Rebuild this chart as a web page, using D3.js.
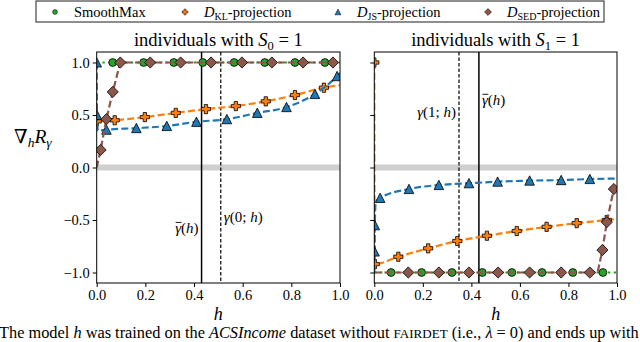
<!DOCTYPE html>
<html><head><meta charset="utf-8">
<script src="https://cdn.jsdelivr.net/npm/d3@7"></script>
<style>
body{margin:0;background:#fff}
svg{display:block}
</style>
</head><body>
<svg id="c" width="640" height="342"></svg>
<script>
// ---------- data ----------
const hTicks = [0, 0.2, 0.4, 0.6, 0.8, 1.0];
const yTicks = [-1, -0.5, 0, 0.5, 1];
const seriesKeys = ["smooth", "kl", "js", "sed"];
const seriesColors = {smooth: "#2ca02c", kl: "#ff7f0e", js: "#1f77b4", sed: "#8c564b"};
const seriesMarkers = {smooth: "circle", kl: "plus", js: "triangle", sed: "diamond"};

// [h, value, hasMarker]
const smoothS0 = [[0,1,0],[0.066,1,1],[0.193,1,1],[0.317,1,1],[0.436,1,1],[0.565,1,1],[0.691,1,1],[0.815,1,1],[0.938,1,1],[1,1,0]];
const klS0 = [[0,0.44,1],[0.074,0.45,1],[0.198,0.48,1],[0.325,0.52,1],[0.449,0.556,1],[0.572,0.585,1],[0.695,0.63,1],[0.815,0.69,1],[0.934,0.76,1],[1,0.785,0]];
const jsS0 = [[0,1.0,1],[0.001,0.5,1],[0.005,0.35,0],[0.04,0.36,1],[0.163,0.375,1],[0.288,0.395,1],[0.41,0.435,1],[0.535,0.46,1],[0.66,0.52,1],[0.78,0.575,1],[0.897,0.70,1],[0.988,0.87,1],[1,0.90,0]];
const sedS0 = [[0,0.0,0],[0.016,0.167,1],[0.04,0.46,1],[0.066,0.72,1],[0.097,1.0,1],[0.22,1,1],[0.345,1,1],[0.47,1,1],[0.597,1,1],[0.72,1,1],[0.848,1,1],[0.971,1,1],[1,1,0]];

const smoothS1 = [[0,-1,0],[0.069,-1,1],[0.195,-1,1],[0.32,-1,1],[0.445,-1,1],[0.567,-1,1],[0.691,-1,1],[0.818,-1,1],[0.942,-1,1],[1,-1,0]];
const klS1 = [[0,1.0,1],[0.002,-0.92,1],[0.099,-0.85,1],[0.222,-0.77,1],[0.342,-0.70,1],[0.464,-0.65,1],[0.587,-0.605,1],[0.71,-0.565,1],[0.834,-0.53,1],[0.958,-0.50,1],[1,-0.49,0]];
const jsS1 = [[0,-1.0,0],[0.001,-0.80,1],[0.002,-0.55,1],[0.006,-0.33,0],[0.024,-0.29,1],[0.143,-0.205,1],[0.266,-0.167,1],[0.39,-0.15,1],[0.508,-0.135,1],[0.64,-0.125,1],[0.77,-0.12,1],[0.888,-0.11,1],[1,-0.105,0]];
const sedS1 = [[0,-1,0],[0.14,-1,1],[0.266,-1,1],[0.39,-1,1],[0.51,-1,1],[0.64,-1,1],[0.77,-1,1],[0.888,-1,1],[0.92,-1,0],[0.94,-0.786,1],[0.958,-0.52,1],[0.987,-0.205,1]];

const gammaBar = 0.431;      // solid line, both panels
const gamma0 = 0.51;         // dashed, S0 panel
const gamma1 = 0.349;        // dashed, S1 panel

// ---------- drawing ----------
const FONT = "'Liberation Serif', 'Times New Roman', 'DejaVu Serif', serif";
const svg = d3.select("#c");
const yDomain = [-1.1, 1.1];
const axTop = 52, axBottom = 283;

function txt(sel) { return sel.style("font-family", FONT).attr("fill", "#000"); }

function markerPath(type, s) {
  const p = d3.path();
  if (type === "circle") { p.moveTo(s, 0); p.arc(0, 0, s, 0, 2 * Math.PI); p.closePath(); }
  else if (type === "plus") {
    const t = s * 0.36;
    const pts = [[-t,-s],[t,-s],[t,-t],[s,-t],[s,t],[t,t],[t,s],[-t,s],[-t,t],[-s,t],[-s,-t],[-t,-t]];
    p.moveTo(pts[0][0], pts[0][1]); pts.slice(1).forEach(q => p.lineTo(q[0], q[1])); p.closePath();
  } else if (type === "triangle") { p.moveTo(0, -s); p.lineTo(s, s * 0.95); p.lineTo(-s, s * 0.95); p.closePath(); }
  else if (type === "diamond") { p.moveTo(0, -s); p.lineTo(s, 0); p.lineTo(0, s); p.lineTo(-s, 0); p.closePath(); }
  return p.toString();
}
const markerSize = {circle: 3.9, plus: 4.6, triangle: 4.8, diamond: 5.6};
const dashes = {smooth: "2.4,3.3", kl: "7,3.2", js: "7,3.2", sed: "7,3.2"};

function gammaLabel(g, xPos, yPos, anchor, s) {
  const tx = txt(g.append("text")).attr("x", xPos).attr("y", yPos)
    .attr("text-anchor", anchor).attr("font-size", 15);
  tx.append("tspan").attr("font-style", "italic").text("\u03b3");
  tx.append("tspan").text(s === null ? "(" : "(" + s + "; ");
  tx.append("tspan").attr("font-style", "italic").text("h");
  tx.append("tspan").text(")");
  if (s === null) {
    const n = tx.node();
    const a = n.getStartPositionOfChar(0).x, b = n.getEndPositionOfChar(0).x;
    g.append("line").attr("x1", a + 0.5).attr("x2", b + 0.5).attr("y1", yPos - 11).attr("y2", yPos - 11)
      .attr("stroke", "#000").attr("stroke-width", 0.9);
  }
}

function panel(id, x0, x1, sub, data, vlines, showY) {
  const x = d3.scaleLinear().domain([0, 1]).range([x0, x1]);
  const y = d3.scaleLinear().domain(yDomain).range([axBottom, axTop]);
  const g = svg.append("g");
  g.append("clipPath").attr("id", "clip" + id).append("rect")
    .attr("x", x0).attr("y", axTop).attr("width", x1 - x0).attr("height", axBottom - axTop);

  g.append("rect").attr("x", x0).attr("width", x1 - x0)
    .attr("y", y(0) - 3).attr("height", 6).attr("fill", "#cfcfcf");

  vlines.forEach(v => {
    g.append("line").attr("x1", x(v.h)).attr("x2", x(v.h)).attr("y1", axTop).attr("y2", axBottom)
      .attr("stroke", "#000").attr("stroke-width", v.dash ? 1.2 : 1.5)
      .attr("stroke-dasharray", v.dash ? "3.5,2" : null);
  });

  const plot = g.append("g").attr("clip-path", `url(#clip${id})`);
  const curveFor = k => (k === "kl" || k === "js") ? d3.curveMonotoneX : d3.curveLinear;
  seriesKeys.forEach(k => {
    const d = data[k];
    const line = d3.line().x(p => x(p[0])).y(p => y(p[1])).curve(curveFor(k));
    plot.append("path").attr("d", line(d)).attr("fill", "none")
      .attr("stroke", seriesColors[k]).attr("stroke-width", 2.2)
      .attr("stroke-dasharray", dashes[k]);
    const mt = seriesMarkers[k];
    plot.selectAll(null).data(d.filter(p => p[2])).enter().append("path")
      .attr("transform", p => `translate(${x(p[0])},${y(p[1])})`)
      .attr("d", markerPath(mt, markerSize[mt]))
      .attr("fill", seriesColors[k]).attr("stroke", "#000").attr("stroke-width", 0.8);
  });

  g.append("rect").attr("x", x0).attr("y", axTop).attr("width", x1 - x0).attr("height", axBottom - axTop)
    .attr("fill", "none").attr("stroke", "#000").attr("stroke-width", 1);

  const xa = g.append("g").attr("transform", `translate(0,${axBottom})`)
    .call(d3.axisBottom(x).tickValues(hTicks).tickFormat(d3.format(".1f")).tickSize(4).tickPadding(3));
  xa.select(".domain").remove();
  txt(xa.selectAll("text")).attr("font-size", 14.5);
  xa.selectAll("line").attr("stroke", "#000");
  const ya = g.append("g").attr("transform", `translate(${x0},0)`)
    .call(d3.axisLeft(y).tickValues(yTicks).tickFormat(showY ? (v => d3.format(".1f")(v).replace("-", "\u2212")) : "").tickSize(4).tickPadding(3));
  ya.select(".domain").remove();
  txt(ya.selectAll("text")).attr("font-size", 14.5);
  ya.selectAll("line").attr("stroke", "#000");

  const t = txt(g.append("text")).attr("x", (x0 + x1) / 2).attr("y", 46).attr("text-anchor", "middle").attr("font-size", 18.5);
  t.append("tspan").text("individuals with ");
  t.append("tspan").attr("font-style", "italic").text("S");
  t.append("tspan").attr("font-size", 12.5).attr("dy", 4).text(sub);
  t.append("tspan").attr("dy", -4).text(" = 1");

  txt(g.append("text")).attr("x", (x0 + x1) / 2).attr("y", 320).attr("text-anchor", "middle")
    .attr("font-size", 18).attr("font-style", "italic").text("h");

  vlines.forEach(v => {
    gammaLabel(g, x(v.h) + (v.anchor === "end" ? -3 : 3), y(v.ly) + 5, v.anchor, v.s);
  });
}

panel("L", 96.7, 340, "0",
  {smooth: smoothS0, kl: klS0, js: jsS0, sed: sedS0},
  [{h: gammaBar, dash: false, s: null, anchor: "end", ly: -0.58},
   {h: gamma0, dash: true, s: "0", anchor: "start", ly: -0.47}], true);

panel("R", 374.3, 617, "1",
  {smooth: smoothS1, kl: klS1, js: jsS1, sed: sedS1},
  [{h: gamma1, dash: true, s: "1", anchor: "end", ly: 0.53},
   {h: gammaBar, dash: false, s: null, anchor: "start", ly: 0.64}], false);

const yl = txt(svg.append("text")).attr("x", 14).attr("y", 143).attr("font-size", 19.5);
yl.append("tspan").text("\u2207");
yl.append("tspan").attr("font-size", 13.5).attr("font-style", "italic").attr("dy", 4).text("h");
yl.append("tspan").attr("font-style", "italic").attr("dy", -4).text("R");
yl.append("tspan").attr("font-size", 13.5).attr("font-style", "italic").attr("dy", 4).text("\u03b3");

const lg = svg.append("g");
lg.append("rect").attr("x", 36).attr("y", 1).attr("width", 568).attr("height", 21)
  .attr("fill", "#fff").attr("stroke", "#444").attr("stroke-width", 1.2);
const legendX = {smooth: 55, kl: 185, js: 338, sed: 488};
const legendLabel = {kl: "KL", js: "JS", sed: "SED"};
seriesKeys.forEach(k => {
  const mt = seriesMarkers[k];
  lg.append("path").attr("transform", `translate(${legendX[k]},12)`)
    .attr("d", markerPath(mt, markerSize[mt] * 0.62))
    .attr("fill", seriesColors[k]).attr("stroke", "#000").attr("stroke-width", 0.5);
  const t = txt(lg.append("text")).attr("x", legendX[k] + 19).attr("y", 17).attr("font-size", 14.5);
  if (k === "smooth") t.append("tspan").text("SmoothMax");
  else {
    t.append("tspan").attr("font-style", "italic").text("D");
    t.append("tspan").attr("font-size", 10).attr("dy", 3).text(legendLabel[k]);
    t.append("tspan").attr("dy", -3).text("-projection");
  }
});

const cap = txt(svg.append("text")).attr("x", -1).attr("y", 338).attr("font-size", 15);
cap.append("tspan").text("The model ");
cap.append("tspan").attr("font-style", "italic").text("h");
cap.append("tspan").text(" was trained on the ");
cap.append("tspan").attr("font-style", "italic").text("ACSIncome");
cap.append("tspan").text(" dataset without ");
cap.append("tspan").attr("font-size", 12).text("FAIRDET");
cap.append("tspan").text(" (i.e., ");
cap.append("tspan").attr("font-style", "italic").text("\u03bb");
cap.append("tspan").text(" = 0) and ends up with");
const cw = cap.node().getComputedTextLength();
cap.attr("font-size", 15 * 640 / cw);
cap.selectAll("tspan").filter(function(){ return this.getAttribute("font-size"); }).attr("font-size", 12 * 640 / cw);
</script>
</body></html>
